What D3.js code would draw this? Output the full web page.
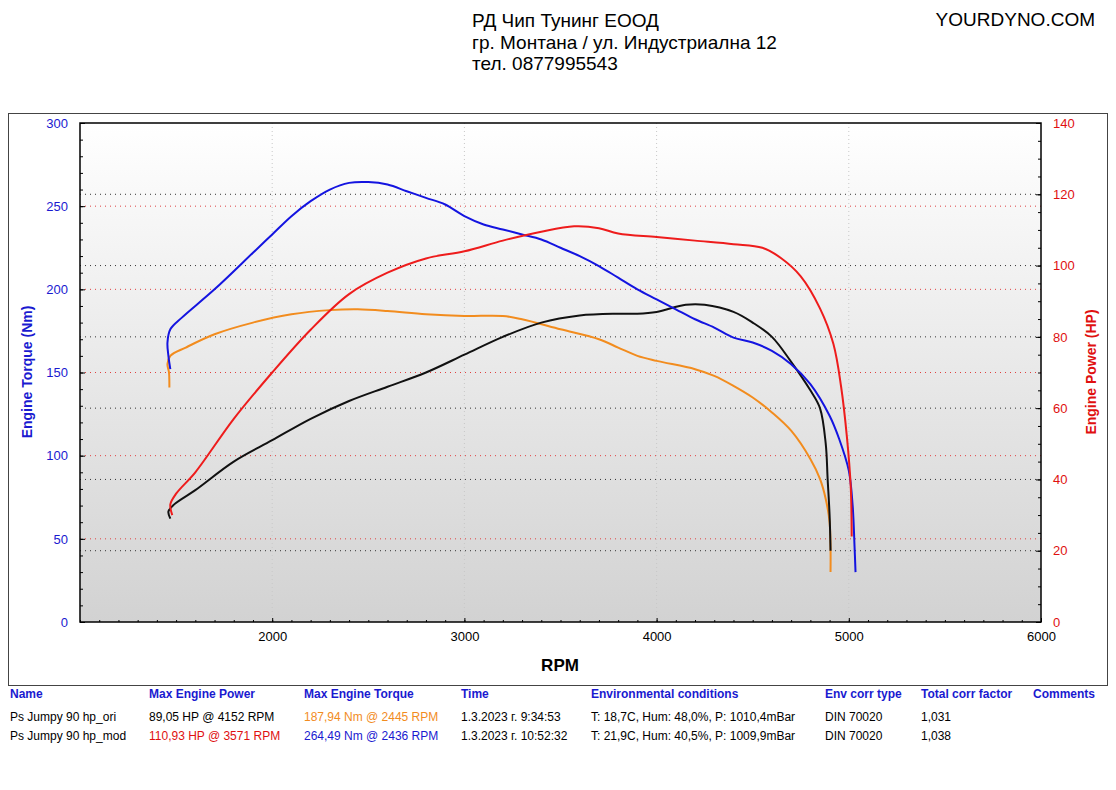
<!DOCTYPE html>
<html><head><meta charset="utf-8">
<script src="https://cdn.jsdelivr.net/npm/d3@7"></script>
<style>body{margin:0;background:#fff;font-family:Arial,"Liberation Sans",sans-serif}</style>
</head><body><svg id="c" width="1116" height="790"></svg>
<script>
const xTicks=[2000,3000,4000,5000,6000];
const torqueTicks=[0,50,100,150,200,250,300];
const powerTicks=[0,20,40,60,80,100,120,140];
const torqueMod=[[1470,152],[1460,160],[1455,168],[1470,176],[1530,183],[1700,200],[1900,222],[2000,233],[2100,244],[2200,253],[2300,260],[2400,264],[2500,264.5],[2600,263],[2700,259],[2800,255],[2900,251],[3000,244],[3100,239],[3200,236],[3300,233],[3400,230],[3500,225],[3600,220],[3700,214],[3800,207],[3900,200],[4000,194],[4100,188],[4200,182],[4300,177],[4400,171],[4500,168],[4600,163],[4700,155],[4800,143],[4900,124],[4950,110],[5000,91],[5020,70],[5030,45],[5035,30]];
const torqueOri=[[1465,141],[1463,150],[1455,155],[1470,160],[1550,165],[1700,173],[1900,180],[2100,185],[2300,187.5],[2445,188],[2600,187],[2800,185],[3000,184],[3200,184],[3300,182],[3500,176],[3700,170],[3800,165],[3900,160],[4000,157],[4200,152],[4300,148],[4400,142],[4500,135],[4600,126],[4700,115],[4800,98],[4850,86],[4880,74],[4900,60],[4905,45],[4905,30]];
const powerMod=[[1480,30],[1470,33],[1500,36],[1600,42],[1800,57],[2000,70],[2200,82],[2400,92],[2600,98],[2800,102],[3000,104],[3200,107],[3400,109.5],[3571,111],[3700,110.5],[3800,109],[4000,108],[4200,107],[4400,106],[4550,105],[4650,102],[4750,97],[4850,88],[4920,78],[4960,66],[4990,52],[5010,38],[5015,24]];
const powerOri=[[1470,29],[1460,31],[1490,33],[1600,37],[1800,45],[2000,51],[2200,57],[2400,62],[2600,66],[2800,70],[3000,75],[3200,80],[3400,84],[3600,86],[3800,86.5],[3900,86.5],[4000,87],[4152,89],[4250,89],[4400,87],[4500,84],[4600,80],[4700,73],[4800,65],[4850,60],[4880,50],[4890,40],[4900,30],[4905,20]];
const headers=["Name","Max Engine Power","Max Engine Torque","Time","Environmental conditions","Env corr type","Total corr factor","Comments"];
const rowOri=["Ps Jumpy 90 hp_ori","89,05 HP @ 4152 RPM","187,94 Nm @ 2445 RPM","1.3.2023 г. 9:34:53","T: 18,7C, Hum: 48,0%, P: 1010,4mBar","DIN 70020","1,031"];
const rowMod=["Ps Jumpy 90 hp_mod","110,93 HP @ 3571 RPM","264,49 Nm @ 2436 RPM","1.3.2023 г. 10:52:32","T: 21,9C, Hum: 40,5%, P: 1009,9mBar","DIN 70020","1,038"];

const svg=d3.select("#c");
const L=80,R=1041,T=123,B=622;
const x=d3.scaleLinear().domain([1000,6000]).range([L,R]);
const yT=d3.scaleLinear().domain([0,300]).range([B,T]);
const yP=d3.scaleLinear().domain([0,140]).range([B,T]);
const h=svg.append("g").attr("font-size",19).attr("fill","#000");
["РД Чип Тунинг ЕООД","гр. Монтана / ул. Индустриална 12","тел. 0877995543"].forEach((t,i)=>h.append("text").attr("x",472).attr("y",27+i*21.5).text(t));
h.append("text").attr("x",1095).attr("y",26).attr("text-anchor","end").text("YOURDYNO.COM");
svg.append("rect").attr("x",8.5).attr("y",113.5).attr("width",1099).attr("height",572).attr("fill","none").attr("stroke","#444");
const grad=svg.append("defs").append("linearGradient").attr("id","bg").attr("x1",0).attr("y1",0).attr("x2",0).attr("y2",1);
grad.append("stop").attr("offset","0%").attr("stop-color","#ffffff");
grad.append("stop").attr("offset","100%").attr("stop-color","#d2d2d2");
svg.append("rect").attr("x",L).attr("y",T).attr("width",R-L).attr("height",B-T).attr("fill","url(#bg)");
xTicks.slice(0,-1).forEach(v=>svg.append("line").attr("x1",x(v)).attr("x2",x(v)).attr("y1",T).attr("y2",B).attr("stroke","#c8c8c8").attr("stroke-dasharray","1,3"));
torqueTicks.slice(1,-1).forEach(v=>svg.append("line").attr("x1",L).attr("x2",R).attr("y1",yT(v)).attr("y2",yT(v)).attr("stroke","#e04040").attr("stroke-dasharray","1,4"));
powerTicks.slice(1,-1).forEach(v=>svg.append("line").attr("x1",L).attr("x2",R).attr("y1",yP(v)).attr("y2",yP(v)).attr("stroke","#333").attr("stroke-dasharray","1,4"));
svg.append("rect").attr("x",L).attr("y",T).attr("width",R-L).attr("height",B-T).attr("fill","none").attr("stroke","#000").attr("stroke-width",1.5);
const ax=svg.append("g").attr("transform",`translate(0,${B})`).call(d3.axisBottom(x).tickValues(xTicks).tickSize(-4).tickFormat(d3.format("d")));
ax.call(g=>g.select(".domain").remove());
const axm=svg.append("g").attr("transform",`translate(0,${B})`).call(d3.axisBottom(x).ticks(50).tickSize(-2).tickFormat(""));axm.select(".domain").remove();
const axl=svg.append("g").attr("transform",`translate(${L},0)`).call(d3.axisLeft(yT).tickValues(torqueTicks).tickSize(-5).tickPadding(12));
axl.select(".domain").remove();
const axlm=svg.append("g").attr("transform",`translate(${L},0)`).call(d3.axisLeft(yT).ticks(30).tickSize(-3).tickFormat(""));axlm.select(".domain").remove();
const axr=svg.append("g").attr("transform",`translate(${R},0)`).call(d3.axisRight(yP).tickValues(powerTicks).tickSize(-5).tickPadding(12));
axr.select(".domain").remove();
const axrm=svg.append("g").attr("transform",`translate(${R},0)`).call(d3.axisRight(yP).ticks(28).tickSize(-3).tickFormat(""));axrm.select(".domain").remove();
svg.selectAll(".tick text").attr("font-size",13).attr("font-family","Arial,Liberation Sans");
ax.selectAll("text").attr("fill","#000").attr("dy","1.2em");
axl.selectAll("text").attr("fill","#1a1ad0");
axr.selectAll("text").attr("fill","#e01010");
svg.append("text").attr("x",560).attr("y",671).attr("text-anchor","middle").attr("font-size",17).attr("font-weight","bold").text("RPM");
svg.append("text").attr("transform","translate(32,372) rotate(-90)").attr("text-anchor","middle").attr("font-size",14).attr("font-weight","bold").attr("fill","#1a1ad0").text("Engine Torque (Nm)");
svg.append("text").attr("transform","translate(1096,372) rotate(-90)").attr("text-anchor","middle").attr("font-size",14).attr("font-weight","bold").attr("fill","#e01010").text("Engine Power (HP)");
const lineT=d3.line().x(d=>x(d[0])).y(d=>yT(d[1])).curve(d3.curveCatmullRom);
const lineP=d3.line().x(d=>x(d[0])).y(d=>yP(d[1])).curve(d3.curveCatmullRom);
[[torqueOri,lineT,"#f28c1e"],[powerOri,lineP,"#111"],[torqueMod,lineT,"#1414e0"],[powerMod,lineP,"#ee1c1c"]].forEach(([d,l,c])=>
 svg.append("path").datum(d).attr("d",l).attr("fill","none").attr("stroke",c).attr("stroke-width",2));
const cols=[10,149,304,461,591,825,921,1033];
const t=svg.append("g").attr("font-size",12);
headers.forEach((s,i)=>t.append("text").attr("x",cols[i]).attr("y",698).attr("fill","#1a1ad0").attr("font-weight","bold").text(s));
const colorsOri=["#000","#000","#f28c1e","#000","#000","#000","#000"];
const colorsMod=["#000","#e01010","#1a1ad0","#000","#000","#000","#000"];
rowOri.forEach((s,i)=>t.append("text").attr("x",cols[i]).attr("y",721).attr("fill",colorsOri[i]).text(s));
rowMod.forEach((s,i)=>t.append("text").attr("x",cols[i]).attr("y",740).attr("fill",colorsMod[i]).text(s));
</script></body></html>
